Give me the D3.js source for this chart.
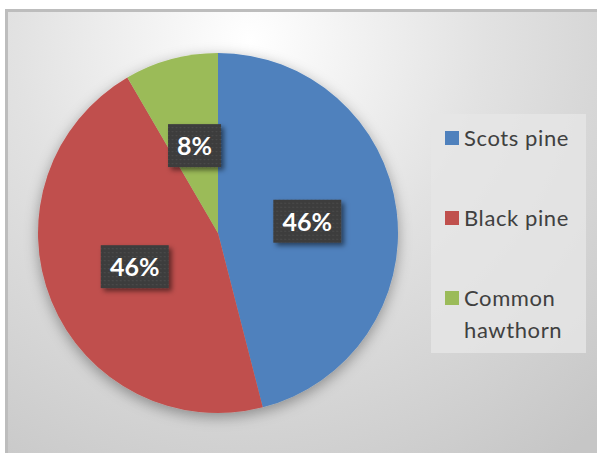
<!DOCTYPE html>
<html>
<head>
<meta charset="utf-8">
<script src="https://cdn.jsdelivr.net/npm/d3@7/dist/d3.min.js"></script>
<style>
  body { margin: 0; background: #fff; }
  svg { display: block; }
</style>
</head>
<body>
<svg id="chart" width="597" height="453"></svg>
<script>
// data
var species = ['Scots pine', 'Black pine', 'Common hawthorn'];
var shares = [46.0, 45.6, 8.4];
var legend_lines = [['Scots pine'], ['Black pine'], ['Common', 'hawthorn']];
var colors = ['#4f81bd', '#c0504d', '#9bbb59'];

var width = 597, height = 453;
var cx = 218, cy = 233, radius = 180;

var svg = d3.select('#chart');
var defs = svg.append('defs');

// background gradient of the chart area
var bg = defs.append('radialGradient')
  .attr('id', 'bg-grad')
  .attr('gradientUnits', 'userSpaceOnUse')
  .attr('cx', 250).attr('cy', 40).attr('r', 520);
bg.append('stop').attr('offset', '0%').attr('stop-color', '#ffffff');
bg.append('stop').attr('offset', '45%').attr('stop-color', '#e2e2e2');
bg.append('stop').attr('offset', '100%').attr('stop-color', '#c6c6c6');

var pie_shadow = defs.append('filter').attr('id', 'pie-shadow')
  .attr('x', '-20%').attr('y', '-20%').attr('width', '140%').attr('height', '140%');
pie_shadow.append('feDropShadow')
  .attr('dx', 0).attr('dy', 4).attr('stdDeviation', 7)
  .attr('flood-color', '#000').attr('flood-opacity', 0.35);

var box_shadow = defs.append('filter').attr('id', 'box-shadow')
  .attr('x', '-30%').attr('y', '-30%').attr('width', '160%').attr('height', '160%');
box_shadow.append('feDropShadow')
  .attr('dx', 3).attr('dy', 3).attr('stdDeviation', 2.5)
  .attr('flood-color', '#000').attr('flood-opacity', 0.5);

// dotted texture on the label boxes
var pat = defs.append('pattern')
  .attr('id', 'dots')
  .attr('patternUnits', 'userSpaceOnUse')
  .attr('width', 4).attr('height', 4);
pat.append('rect').attr('width', 4).attr('height', 4).attr('fill', '#3d3d3d');
pat.append('rect').attr('x', 1).attr('y', 1).attr('width', 2).attr('height', 1).attr('fill', '#4a4a4a');

// frame
svg.append('rect')
  .attr('x', 5).attr('y', 9)
  .attr('width', width - 5).attr('height', height - 9)
  .attr('fill', '#bdbdbd');
svg.append('rect')
  .attr('x', 8).attr('y', 12)
  .attr('width', width - 8).attr('height', height - 12)
  .attr('fill', 'url(#bg-grad)');

// pie
var pie = d3.pie().sort(null).value(d => d);
var arcs = pie(shares);
var arc = d3.arc().innerRadius(0).outerRadius(radius);

var g = svg.append('g')
  .attr('transform', 'translate(' + cx + ',' + cy + ')');

g.append('g')
  .attr('filter', 'url(#pie-shadow)')
  .selectAll('path')
  .data(arcs)
  .enter()
  .append('path')
  .attr('fill', (d, i) => colors[i])
  .attr('d', arc);

// data labels
var labels = g.selectAll('g.lbl')
  .data(arcs)
  .enter()
  .append('g')
  .attr('class', 'lbl')
  .attr('transform', d => 'translate(' + arc.centroid(d) + ')');

labels.each(function(d) {
  var txt = Math.round(d.value) + '%';
  var w = txt.length > 2 ? 68 : 53;
  var sel = d3.select(this);
  sel.append('rect')
    .attr('x', -w / 2).attr('y', -22)
    .attr('width', w).attr('height', 43)
    .attr('fill', 'url(#dots)')
    .attr('filter', 'url(#box-shadow)');
  sel.append('text')
    .text(txt)
    .attr('text-anchor', 'middle')
    .attr('dy', '0.36em')
    .attr('font-family', 'Lato, "Open Sans", sans-serif')
    .attr('font-weight', 'bold')
    .attr('font-size', 25)
    .attr('fill', '#ffffff');
});

// legend
var legend = svg.append('g');
legend.append('rect')
  .attr('x', 431).attr('y', 114)
  .attr('width', 155).attr('height', 239)
  .attr('fill', '#e6e6e6')
  .attr('fill-opacity', 0.8);

var ly = d3.scalePoint().domain(species).range([138, 298]);

var items = legend.selectAll('g.item')
  .data(species)
  .enter()
  .append('g')
  .attr('class', 'item')
  .attr('transform', d => 'translate(445,' + ly(d) + ')');

items.append('rect')
  .attr('x', 0).attr('y', -7)
  .attr('width', 14).attr('height', 14)
  .attr('fill', (d, i) => colors[i]);

items.append('text')
  .attr('font-family', 'Lato, "Open Sans", sans-serif')
  .attr('font-size', 22)
  .attr('letter-spacing', 0.6)
  .attr('fill', '#404040')
  .each(function(d, i) {
    var t = d3.select(this);
    legend_lines[i].forEach((line, k) => {
      t.append('tspan')
        .attr('x', 19)
        .attr('y', 8 + k * 32)
        .text(line);
    });
  });
</script>
</body>
</html>
